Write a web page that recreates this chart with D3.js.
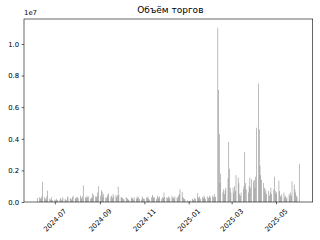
<!DOCTYPE html>
<html>
<head>
<meta charset="utf-8">
<script src="https://cdn.jsdelivr.net/npm/d3@7"></script>
<style>
  body { margin: 0; background: #fff; }
  svg { display: block; }
  text { font-family: "DejaVu Sans", sans-serif; fill: #000; }
</style>
</head>
<body>
<script>
// daily trading volume, millions, one value per weekday of each month
let vol2024_06 = [0.25, 0.3, 0.2, 0.25, 0.35, 1.28, 0.3, 0.22, 0.15, 0.35, 0.72, 0.2, 0.15, 0.3, 0.12, 0.1]
let vol2024_07 = [0.15, 0.1, 0.2, 0.12, 0.1, 0.15, 0.25, 0.1, 0.18, 0.3, 0.2, 0.12, 0.1, 0.3, 0.35, 0.2, 0.25, 0.15, 0.3, 0.4, 0.25, 0.2, 0.3]
let vol2024_08 = [0.3, 0.25, 0.4, 0.3, 0.2, 0.35, 1.05, 0.3, 0.25, 0.4, 0.3, 0.35, 0.2, 0.25, 0.3, 0.55, 0.45, 0.35, 0.3, 0.4, 0.6, 1.0]
let vol2024_09 = [0.4, 0.75, 0.65, 0.3, 0.5, 0.3, 0.25, 0.45, 0.35, 0.55, 0.3, 0.4, 0.25, 0.5, 0.35, 0.45, 0.3, 0.4, 0.97, 0.45, 0.3]
let vol2024_10 = [0.3, 0.25, 0.2, 0.15, 0.3, 0.25, 0.2, 0.15, 0.1, 0.3, 0.2, 0.25, 0.15, 0.3, 0.2, 0.35, 0.25, 0.3, 0.2, 0.15, 0.35, 0.25, 0.2]
let vol2024_11 = [0.2, 0.3, 0.25, 0.35, 0.2, 0.15, 0.3, 0.45, 0.35, 0.25, 0.3, 0.2, 0.4, 0.3, 0.25, 0.35, 0.2, 0.3, 0.25, 0.6, 0.3]
let vol2024_12 = [0.3, 0.25, 0.35, 0.2, 0.3, 0.4, 0.25, 0.3, 0.2, 0.35, 0.3, 0.25, 0.4, 0.5, 0.8, 0.65, 0.3, 0.25, 0.2, 0.15, 0.1, 0.05]
let vol2025_01 = [0.05, 0.05, 0.1, 0.2, 0.15, 0.1, 0.25, 0.2, 0.55, 0.3, 0.25, 0.35, 0.2, 0.3, 0.25, 0.4, 0.3, 0.2, 0.35, 0.25, 0.3, 0.4, 0.3]
let vol2025_02 = [0.4, 0.3, 0.5, 0.35, 0.3, 11.03, 7.1, 4.3, 1.2, 1.8, 0.6, 0.8, 0.5, 0.75, 0.9, 1.5, 3.8, 2.1, 0.9, 0.6]
let vol2025_03 = [0.9, 0.6, 1.0, 0.7, 1.7, 1.55, 1.2, 0.5, 0.4, 0.6, 0.8, 1.0, 3.17, 1.2, 0.8, 0.6, 1.0, 1.55, 0.9, 1.45, 1.3]
let vol2025_04 = [1.4, 0.9, 1.6, 4.7, 7.5, 4.6, 2.3, 1.7, 1.4, 1.2, 0.9, 0.6, 0.8, 0.5, 0.7, 0.4, 0.6, 0.9, 0.5, 0.8, 1.6, 0.7]
let vol2025_05 = [0.5, 0.6, 1.35, 0.7, 0.4, 0.3, 0.5, 0.6, 0.3, 0.4, 0.2, 0.3, 0.5, 0.4, 0.6, 0.4, 1.3, 1.1, 0.8, 0.6, 0.4, 0.3]
let vol2025_06 = [2.4]

// first trading day shown in each month
let monthStarts = ['2024-06-07', '2024-07-01', '2024-08-01', '2024-09-02', '2024-10-01', '2024-11-01',
  '2024-12-02', '2025-01-01', '2025-02-03', '2025-03-03', '2025-04-01', '2025-05-01', '2025-06-02']
let monthValues = [vol2024_06, vol2024_07, vol2024_08, vol2024_09, vol2024_10, vol2024_11,
  vol2024_12, vol2025_01, vol2025_02, vol2025_03, vol2025_04, vol2025_05, vol2025_06]

let title = 'Объём торгов'
let offsetLabel = '1e7'

let parse = d3.timeParse('%Y-%m-%d')
let data = []
monthStarts.forEach((s, i) => {
  let start = parse(s)
  let days = d3.timeDay.range(start, d3.timeMonth.ceil(d3.timeDay.offset(start, 1)))
    .filter(d => d.getDay() !== 0 && d.getDay() !== 6)
  monthValues[i].forEach((v, j) => data.push({date: days[j], value: v * 1e6}))
})

let width = 320, height = 240
let margin = {left: 24, right: 7.3, top: 19, bottom: 38}
let innerW = width - margin.left - margin.right,
    innerH = height - margin.top - margin.bottom

let svg = d3.select('body').append('svg')
  .attr('width', width)
  .attr('height', height)

let g = svg.append('g').attr('transform', `translate(${margin.left},${margin.top})`)

// matplotlib style: 0.8 day bars, 5% margins on x, 5% headroom on y
let halfBar = 0.4 * 864e5
let first = +data[0].date - halfBar, last = +data[data.length - 1].date + halfBar
let pad = (last - first) * 0.05
let x = d3.scaleTime().domain([new Date(first - pad), new Date(last + pad)]).range([0, innerW])
let y = d3.scaleLinear().domain([0, d3.max(data, d => d.value) * 1.05]).range([innerH, 0])

g.append('g').selectAll('rect')
  .data(data)
  .join('rect')
    .attr('x', d => x(new Date(+d.date - halfBar)))
    .attr('width', d => x(new Date(+d.date + halfBar)) - x(new Date(+d.date - halfBar)))
    .attr('y', d => y(d.value))
    .attr('height', d => innerH - y(d.value))
    .style('fill', '#7a7a7a')
    .style('fill-opacity', 0.85)

let fs = 6.9
let tickLen = 2.4

// y axis
let yAxis = g.append('g')
  .call(d3.axisLeft(y).tickValues([0, 2e6, 4e6, 6e6, 8e6, 10e6])
    .tickFormat(d => (d / 1e7).toFixed(1)).tickSize(tickLen).tickPadding(2.4))
yAxis.select('.domain').remove()
yAxis.selectAll('line').attr('stroke', '#000').attr('stroke-width', 0.6)
yAxis.selectAll('text').style('font-size', fs + 'px').style('font-family', '"DejaVu Sans", sans-serif')

// x axis
let xAxis = g.append('g')
  .attr('transform', `translate(0,${innerH})`)
  .call(d3.axisBottom(x).ticks(d3.timeMonth.every(2)).tickFormat(d3.timeFormat('%Y-%m')).tickSize(tickLen))
xAxis.select('.domain').remove()
xAxis.selectAll('line').attr('stroke', '#000').attr('stroke-width', 0.6)
xAxis.selectAll('text').each(function () {
  let t = d3.select(this)
    .style('font-size', fs + 'px')
    .style('font-family', '"DejaVu Sans", sans-serif')
    .attr('dy', null)
    .attr('y', 0)
  let w = this.getComputedTextLength(), h = fs * 1.17
  let box = (w + h) * Math.SQRT1_2
  t.attr('text-anchor', 'middle')
    .attr('dominant-baseline', 'central')
    .attr('transform', `translate(0,${tickLen + 3 + box / 2}) rotate(-45)`)
})

// frame
g.append('rect')
  .attr('width', innerW)
  .attr('height', innerH)
  .attr('fill', 'none')
  .attr('stroke', '#000')
  .attr('stroke-width', 0.6)

g.append('text')
  .attr('x', 0)
  .attr('y', -4)
  .style('font-size', fs + 'px')
  .text(offsetLabel)

g.append('text')
  .attr('x', innerW / 2 + 2)
  .attr('y', -6)
  .attr('text-anchor', 'middle')
  .style('font-size', '9px')
  .text(title)
</script>
</body>
</html>
